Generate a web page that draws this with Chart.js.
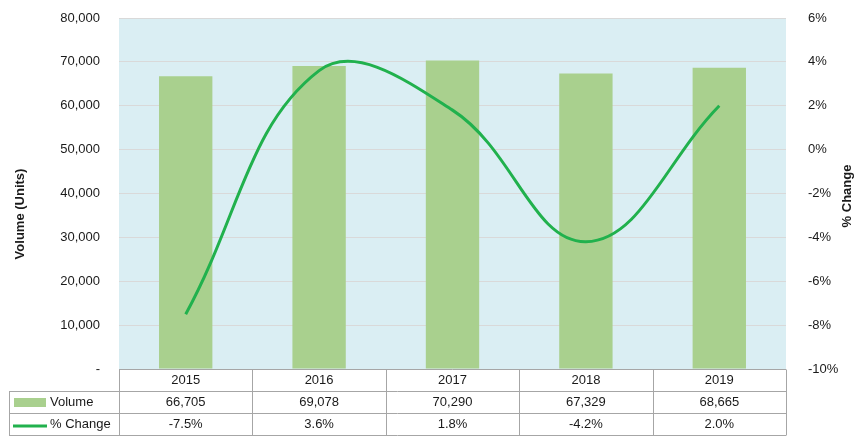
<!DOCTYPE html>
<html>
<head>
<meta charset="utf-8">
<script src="https://cdn.jsdelivr.net/npm/chart.js@4.4.0/dist/chart.umd.min.js"></script>
<style>
  html, body { margin: 0; padding: 0; background: #ffffff; }
  #wrap { width: 854px; height: 436px; }
</style>
</head>
<body>
<div id="wrap"><canvas id="c" width="854" height="436"></canvas></div>
<script>
// Annual volume and year-over-year change
const years = ['2015', '2016', '2017', '2018', '2019'];
const volume = [66705, 69078, 70290, 67329, 68665];
const pctChange = [-7.5, 3.6, 1.8, -4.2, 2.0];

// Axis ranges
const volumeAxis = [0, 80000, 10000];   // min, max, step
const pctAxis = [-10, 6, 2];            // min, max, step

const FONT = '"Liberation Sans", Arial, sans-serif';
const TEXT = '#1a1a1a';
const BAR_COLOR = '#a9d08e';
const LINE_COLOR = '#21b14d';
const TABLE_LINE = '#a6a6a6';

const fmtVolume = v => v === 0 ? '-' : v.toLocaleString('en-US');
const fmtPct = v => v.toFixed(1) + '%';

// Light blue plot background
const plotBackground = {
  id: 'plotBackground',
  beforeDraw(chart) {
    const { ctx, chartArea: a } = chart;
    ctx.save();
    ctx.fillStyle = '#daeef3';
    ctx.fillRect(a.left, a.top, a.right - a.left, a.bottom - a.top);
    ctx.restore();
  }
};

// Axis titles and the data table under the plot
const dataTable = {
  id: 'dataTable',
  afterDraw(chart) {
    const { ctx, chartArea: a } = chart;
    const xs = chart.scales.x;
    const n = years.length;
    const colW = (a.right - a.left) / n;
    const edges = [];
    for (let i = 0; i < n; i++) edges.push(xs.getPixelForValue(i) - colW / 2);
    edges.push(xs.getPixelForValue(n - 1) + colW / 2);

    const rowH = 22;
    const top = a.bottom;
    const rows = [top, top + rowH, top + 2 * rowH, top + 3 * rowH - 0.5];
    const tableLeft = 9;
    const snap = v => Math.round(v) + 0.5;

    ctx.save();
    ctx.strokeStyle = TABLE_LINE;
    ctx.lineWidth = 1;
    ctx.beginPath();
    // header row top line
    ctx.moveTo(edges[0], snap(rows[0]));
    ctx.lineTo(edges[n], snap(rows[0]));
    // remaining horizontal lines
    for (let r = 1; r < 4; r++) {
      ctx.moveTo(tableLeft, snap(rows[r]));
      ctx.lineTo(edges[n], snap(rows[r]));
    }
    // vertical lines
    ctx.moveTo(snap(tableLeft), snap(rows[1]));
    ctx.lineTo(snap(tableLeft), snap(rows[3]));
    for (const e of edges) {
      ctx.moveTo(snap(e), snap(rows[0]));
      ctx.lineTo(snap(e), snap(rows[3]));
    }
    ctx.stroke();

    // cell text
    ctx.fillStyle = TEXT;
    ctx.font = '13px ' + FONT;
    ctx.textAlign = 'center';
    ctx.textBaseline = 'middle';
    for (let i = 0; i < n; i++) {
      const cx = xs.getPixelForValue(i);
      ctx.fillText(years[i], cx, rows[0] + rowH / 2 + 0.5);
      ctx.fillText(fmtVolume(volume[i]), cx, rows[1] + rowH / 2 + 0.5);
      ctx.fillText(fmtPct(pctChange[i]), cx, rows[2] + rowH / 2 + 0.5);
    }

    // legend keys in the row headers
    ctx.fillStyle = BAR_COLOR;
    ctx.fillRect(14, rows[1] + 7, 32, 9);
    ctx.strokeStyle = LINE_COLOR;
    ctx.lineWidth = 3;
    ctx.beginPath();
    ctx.moveTo(13, rows[2] + 13);
    ctx.lineTo(47, rows[2] + 13);
    ctx.stroke();
    ctx.fillStyle = TEXT;
    ctx.textAlign = 'left';
    ctx.fillText('Volume', 50, rows[1] + rowH / 2 + 0.5);
    ctx.fillText('% Change', 50, rows[2] + rowH / 2 + 0.5);

    // axis titles
    ctx.font = 'bold 13px ' + FONT;
    ctx.textAlign = 'center';
    ctx.save();
    ctx.translate(20, 214);
    ctx.rotate(-Math.PI / 2);
    ctx.fillText('Volume (Units)', 0, 0);
    ctx.restore();
    ctx.save();
    ctx.translate(847, 196);
    ctx.rotate(-Math.PI / 2);
    ctx.fillText('% Change', 0, 0);
    ctx.restore();
    ctx.restore();
  }
};

new Chart(document.getElementById('c'), {
  data: {
    labels: years,
    datasets: [
      {
        type: 'line',
        label: '% Change',
        data: pctChange,
        yAxisID: 'y1',
        borderColor: LINE_COLOR,
        borderWidth: 3,
        pointRadius: 0,
        tension: 0.4,
        fill: false,
        order: 0
      },
      {
        type: 'bar',
        label: 'Volume',
        data: volume,
        yAxisID: 'y',
        backgroundColor: BAR_COLOR,
        borderWidth: 0,
        barPercentage: 0.4,
        categoryPercentage: 1.0,
        order: 1
      }
    ]
  },
  options: {
    responsive: false,
    animation: false,
    devicePixelRatio: 1,
    layout: { padding: { top: 18, bottom: 67, left: 0, right: 0 } },
    plugins: { legend: { display: false }, tooltip: { enabled: false } },
    scales: {
      x: { display: false, offset: true },
      y: {
        position: 'left',
        min: volumeAxis[0], max: volumeAxis[1],
        ticks: {
          stepSize: volumeAxis[2],
          padding: 2,
          color: TEXT,
          font: { family: FONT, size: 13 },
          callback: v => fmtVolume(v)
        },
        grid: { color: '#d9d9d9', lineWidth: 1, drawTicks: true, tickLength: 17, tickColor: 'rgba(0,0,0,0)' },
        border: { display: false },
        afterFit: s => { s.width = 119; }
      },
      y1: {
        position: 'right',
        min: pctAxis[0], max: pctAxis[1],
        ticks: {
          stepSize: pctAxis[2],
          padding: 2,
          color: TEXT,
          font: { family: FONT, size: 13 },
          callback: v => v + '%'
        },
        grid: { display: true, drawOnChartArea: false, drawTicks: true, tickLength: 20, tickColor: 'rgba(0,0,0,0)' },
        border: { display: false },
        afterFit: s => { s.width = 68; }
      }
    }
  },
  plugins: [plotBackground, dataTable]
});
</script>
</body>
</html>
